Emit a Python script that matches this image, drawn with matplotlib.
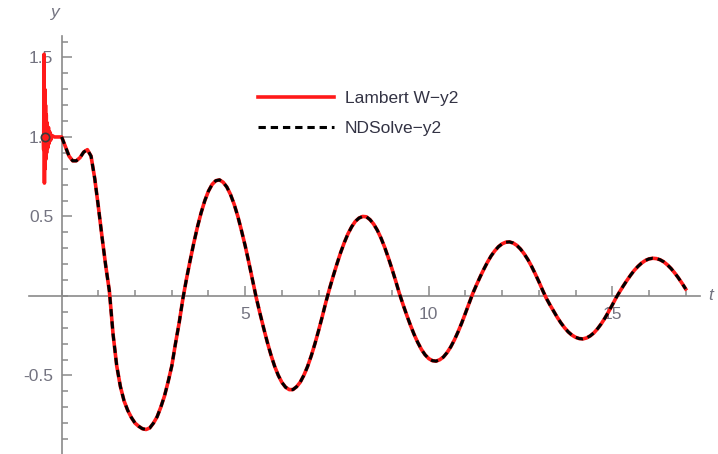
import numpy as np
import matplotlib.pyplot as plt
from matplotlib.ticker import FixedLocator, MultipleLocator, FormatStrFormatter

# y2(t) sampled every 0.1 from t = 0 to t = 17
t_step = 0.1
y2_vals = [
    1.00, 0.94, 0.88, 0.85, 0.85, 0.87, 0.905, 0.92, 0.88, 0.74,
    0.56, 0.37, 0.19, 0.03, -0.24, -0.44, -0.57, -0.66, -0.72, -0.765,
    -0.80, -0.82, -0.835, -0.84, -0.83, -0.80, -0.76, -0.70, -0.63, -0.54,
    -0.44, -0.30, -0.17, -0.02, 0.107, 0.223, 0.334, 0.435, 0.524, 0.60,
    0.66, 0.702, 0.725, 0.73, 0.715, 0.685, 0.638, 0.576, 0.50, 0.41,
    0.315, 0.21, 0.10, -0.01, -0.107, -0.20, -0.289, -0.37, -0.441, -0.499,
    -0.544, -0.574, -0.589, -0.589, -0.571, -0.542, -0.498, -0.443, -0.376, -0.30,
    -0.217, -0.129, -0.037, 0.048, 0.127, 0.202, 0.273, 0.336, 0.391, 0.435,
    0.469, 0.49, 0.50, 0.498, 0.48, 0.452, 0.413, 0.364, 0.306, 0.24,
    0.169, 0.094, 0.016, -0.054, -0.12, -0.183, -0.241, -0.292, -0.336, -0.37,
    -0.394, -0.407, -0.41, -0.401, -0.384, -0.356, -0.32, -0.276, -0.225, -0.169,
    -0.108, -0.045, 0.016, 0.069, 0.12, 0.168, 0.2125, 0.252, 0.284, 0.31,
    0.328, 0.338, 0.34, 0.333, 0.318, 0.295, 0.265, 0.229, 0.187, 0.14,
    0.09, 0.037, -0.013, -0.055, -0.095, -0.134, -0.169, -0.20, -0.226, -0.246,
    -0.26, -0.268, -0.27, -0.264, -0.251, -0.232, -0.206, -0.175, -0.139, -0.099,
    -0.057, -0.013, 0.026, 0.063, 0.098, 0.131, 0.161, 0.186, 0.207, 0.223,
    0.233, 0.237, 0.235, 0.228, 0.215, 0.196, 0.173, 0.145, 0.114, 0.08,
    0.044,
]

# Lambert W series ringing on the history interval before t = 0
ring_t = [-0.50, -0.49, -0.48, -0.47, -0.46, -0.45, -0.44, -0.43, -0.42, -0.41,
          -0.40, -0.38, -0.36, -0.34, -0.32, -0.30, -0.27, -0.2, -0.1]
ring_y = [1.00, 0.92, 1.52, 0.71, 1.30, 0.80, 1.20, 0.86, 1.14, 0.90, 1.09,
          0.93, 1.06, 0.96, 1.03, 0.98, 1.01, 1.0, 1.0]

jump_t = [-0.45]
jump_y = [1.0]

x_major = [5, 10, 15]
y_major = [-0.5, 0.5, 1.0, 1.5]

t_vals = np.arange(len(y2_vals)) * t_step

plt.rcParams['font.family'] = ['Liberation Sans', 'DejaVu Sans']

fig = plt.figure(figsize=(7.18, 4.54), dpi=100)
W, H = 718, 454
ax = fig.add_axes([29 / W, 0, 671 / W, 418 / H])
ax.set_xlim(-0.89, 17.39)
ax.set_ylim(-0.994, 1.635)

axis_grey = '#8a8a8a'
label_grey = '#737380'

lam_t = np.concatenate([ring_t, t_vals])
lam_y = np.concatenate([ring_y, y2_vals])
ax.plot(lam_t, lam_y, color='#ff1a1a', lw=2.6, solid_joinstyle='round',
        label='Lambert W\u2212y2', zorder=3)
ax.plot(t_vals, y2_vals, color='black', lw=2.2, dashes=(2.4, 1.6),
        label='NDSolve\u2212y2', zorder=4)
ax.plot(jump_t, jump_y, 'o', ms=6, mfc='none', mec='#3a3a3a', mew=1.2, zorder=5)

# axes crossing at the origin
for side in ['top', 'right']:
    ax.spines[side].set_visible(False)
ax.spines['left'].set_position(('data', 0))
ax.spines['bottom'].set_position(('data', 0))
for side in ['left', 'bottom']:
    ax.spines[side].set_color(axis_grey)
    ax.spines[side].set_linewidth(1.2)

ax.xaxis.set_major_locator(FixedLocator(x_major))
ax.xaxis.set_minor_locator(MultipleLocator(1))
ax.yaxis.set_major_locator(FixedLocator(y_major))
ax.yaxis.set_minor_locator(MultipleLocator(0.1))
ax.yaxis.set_major_formatter(FormatStrFormatter('%.1f'))

ax.tick_params(which='both', direction='in', color=axis_grey, width=1.1)
ax.tick_params(which='major', length=7)
ax.tick_params(which='minor', length=4)
ax.tick_params(axis='x', which='major', labelsize=12.5, labelcolor=label_grey, pad=8)
ax.tick_params(axis='y', which='major', labelsize=12.5, labelcolor=label_grey, pad=6)

fig.text(55 / W, 1 - 13 / H, 'y', fontsize=12.5, style='italic', color=label_grey,
         ha='center', va='center')
fig.text(711 / W, 1 - 296 / H, 't', fontsize=12.5, style='italic', color=label_grey,
         ha='center', va='center')

ax.legend(loc='upper left', bbox_to_anchor=(258 / W, 1 - 91 / H),
          bbox_transform=fig.transFigure, frameon=False, borderpad=0,
          borderaxespad=0, fontsize=12.5, handlelength=4.4, handletextpad=0.6,
          labelspacing=0.85, labelcolor='#333344')

fig.savefig('out.png', dpi=100)
